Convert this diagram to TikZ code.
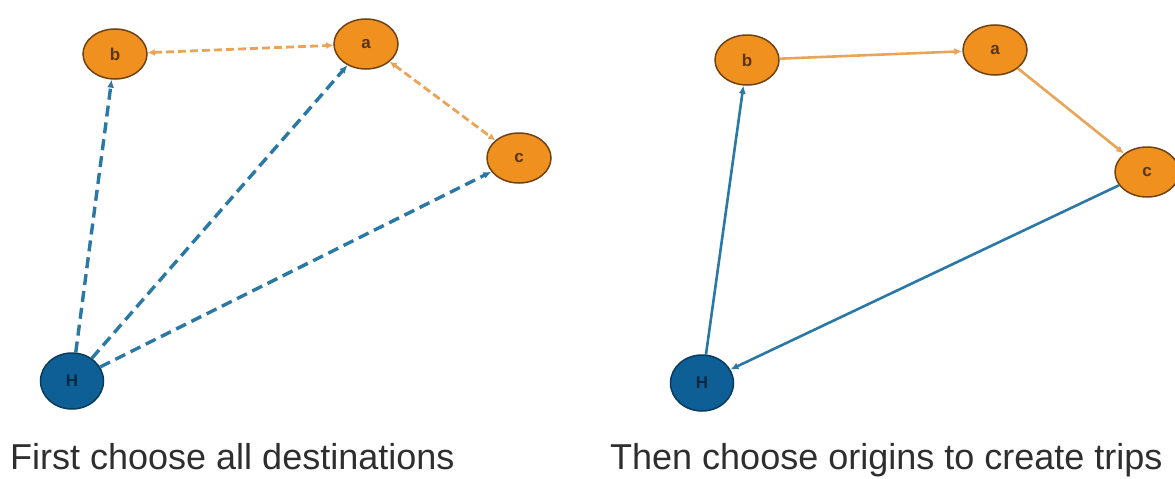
\documentclass[tikz,border=0pt]{standalone}
\usepackage{fontspec}
\setmainfont{Liberation Sans}
\usetikzlibrary{arrows.meta,shapes.geometric}
\definecolor{norange}{HTML}{F0901E}
\definecolor{nborder}{HTML}{6E4214}
\definecolor{hblue}{HTML}{0E5F96}
\definecolor{hborder}{HTML}{0A3A5C}
\definecolor{eblue}{HTML}{2A78A6}
\definecolor{eorange}{HTML}{EAA458}
\definecolor{txt}{HTML}{2E2E2E}
\tikzset{
  dest/.style={ellipse, draw=nborder, line width=1.5pt, fill=norange, minimum width=64pt, minimum height=50pt, inner sep=0pt, font=\bfseries\fontsize{17}{17}\selectfont, text=nborder!80!black},
  home/.style={ellipse, draw=hborder, line width=1.5pt, fill=hblue, minimum width=63pt, minimum height=56pt, inner sep=0pt, font=\bfseries\fontsize{17}{17}\selectfont, text=hborder!70!black},
  bdash/.style={draw=eblue, line width=3.4pt, dash pattern=on 11pt off 6pt, -{Latex[length=8pt,width=7pt]}},
  odash/.style={draw=eorange, line width=2.8pt, dash pattern=on 8pt off 4pt, {Latex[length=7pt,width=7pt]}-{Latex[length=7pt,width=7pt]}},
  bsolid/.style={draw=eblue, line width=2.6pt, -{Latex[length=8pt,width=7pt]}},
  osolid/.style={draw=eorange, line width=2.6pt, -{Latex[length=8pt,width=7pt]}},
  caption/.style={text=txt, font=\fontsize{36}{40}\selectfont, anchor=base west, inner sep=0pt}
}
\begin{document}
\begin{tikzpicture}[x=1pt,y=-1pt]
\useasboundingbox (0,0) rectangle (1175,479);
% left graph
\node[dest] (lb) at (115,54) {b};
\node[dest] (la) at (366,44) {a};
\node[dest] (lc) at (519,158) {c};
\node[home] (lH) at (72,381) {H};
\draw[bdash] (lH) -- (lb);
\draw[bdash] (lH) -- (la);
\draw[bdash] (lH) -- (lc);
\draw[odash] (lb) -- (la);
\draw[odash] (la) -- (lc);
% right graph
\node[dest] (rb) at (747,60) {b};
\node[dest] (ra) at (995,50) {a};
\node[dest] (rc) at (1147,172) {c};
\node[home] (rH) at (702,383) {H};
\draw[osolid] (rb) -- (ra);
\draw[osolid] (ra) -- (rc);
\draw[bsolid] (rc) -- (rH);
\draw[bsolid] (rH) -- (rb);
% captions
\node[caption] (t1) at (10,469) {First choose all destinations};
\node[caption] (t2) at (610,469) {Then choose origins to create trips};
\end{tikzpicture}
\end{document}
